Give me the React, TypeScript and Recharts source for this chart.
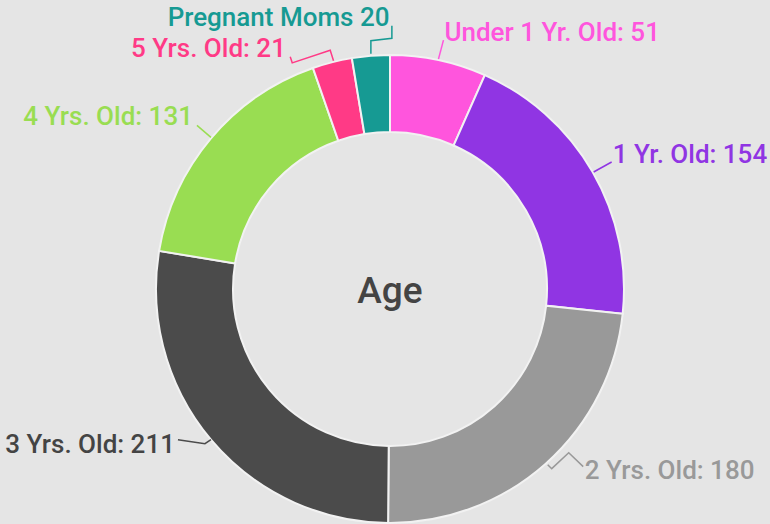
import React from 'react';
import { PieChart, Pie, Cell, Label } from 'recharts';

const CATEGORIES = ['Under 1 Yr. Old', '1 Yr. Old', '2 Yrs. Old', '3 Yrs. Old', '4 Yrs. Old', '5 Yrs. Old', 'Pregnant Moms'];
const COUNTS = [51, 154, 180, 211, 131, 21, 20];
const SEPARATORS = [': ', ': ', ': ', ': ', ': ', ': ', ' '];

const COLORS = ['#ff55dd', '#9035e3', '#999999', '#4b4b4b', '#99dd52', '#ff3a86', '#169a93'];
const LABEL_COLORS = ['#ff55dd', '#9035e3', '#999999', '#444444', '#99dd52', '#ff3a86', '#169a93'];

// leader-line bends, as offsets from the slice's outer edge point, and text placement
const LABEL_LAYOUT: { pts: number[][]; dx: number; dy: number; anchor: 'start' | 'end' }[] = [
  { pts: [[0, -1], [5, -20]], dx: 1, dy: 1, anchor: 'start' },
  { pts: [[1, 0], [19, -10]], dx: 1, dy: 0.5, anchor: 'start' },
  { pts: [[2, 1], [6, 5], [23, -11], [37.5, 3]], dx: 1.5, dy: 12, anchor: 'start' },
  { pts: [[0, 0], [-6, 4], [-33, 0]], dx: -3, dy: 13, anchor: 'end' },
  { pts: [[0, -1], [-14, -13]], dx: -4, dy: 0, anchor: 'end' },
  { pts: [[1.3, -1.4], [-2, -12], [-40, 0.6], [-42, -5.4]], dx: -4.3, dy: 0, anchor: 'end' },
  { pts: [[0, -2], [0, -15], [21, -17.5], [21, -30]], dx: -2.4, dy: 0.7, anchor: 'end' },
];

const data = CATEGORIES.map((name, i) => ({ name, value: COUNTS[i] }));

const RADIAN = Math.PI / 180;

const renderLabel = (props: any) => {
  const { cx, cy, midAngle, outerRadius, index } = props;
  const layout = LABEL_LAYOUT[index];
  const ax = cx + outerRadius * Math.cos(-midAngle * RADIAN);
  const ay = cy + outerRadius * Math.sin(-midAngle * RADIAN);
  const pts = layout.pts.map(([x, y]) => [ax + x, ay + y]);
  const end = pts[pts.length - 1];
  return (
    <g key={`label-${index}`}>
      <polyline
        points={pts.map((p) => p.join(',')).join(' ')}
        fill="none"
        stroke={COLORS[index]}
        strokeWidth={1.5}
      />
      <text
        x={end[0] + layout.dx}
        y={end[1] + layout.dy}
        textAnchor={layout.anchor}
        fill={LABEL_COLORS[index]}
        fontSize={26}
        fontWeight={500}
        fontFamily="Roboto, sans-serif"
      >
        {`${CATEGORIES[index]}${SEPARATORS[index]}${COUNTS[index]}`}
      </text>
    </g>
  );
};

const App: React.FC = () => {
  return (
    <div style={{ position: 'absolute', left: 0, top: 0, width: 770, height: 524, background: '#e5e5e5' }}>
      <PieChart width={770} height={524} margin={{ top: 0, right: 0, bottom: 0, left: 0 }}>
        <Pie
          data={data}
          dataKey="value"
          nameKey="name"
          cx={390}
          cy={289}
          innerRadius={157}
          outerRadius={234}
          startAngle={90}
          endAngle={-270}
          stroke="#f2f2f2"
          strokeWidth={2}
          label={renderLabel}
          labelLine={false}
          isAnimationActive={false}
        >
          {data.map((_, index) => (
            <Cell key={`cell-${index}`} fill={COLORS[index]} />
          ))}
          <Label
            position="center"
            content={(p: any) => {
              const vb = p.viewBox || {};
              return (
                <text
                  x={vb.cx ?? 390}
                  y={(vb.cy ?? 289) + 13.5}
                  textAnchor="middle"
                  fill="#444444"
                  fontSize={37}
                  fontWeight={500}
                  fontFamily="Roboto, sans-serif"
                >
                  Age
                </text>
              );
            }}
          />
        </Pie>
      </PieChart>
    </div>
  );
};

export default App;
